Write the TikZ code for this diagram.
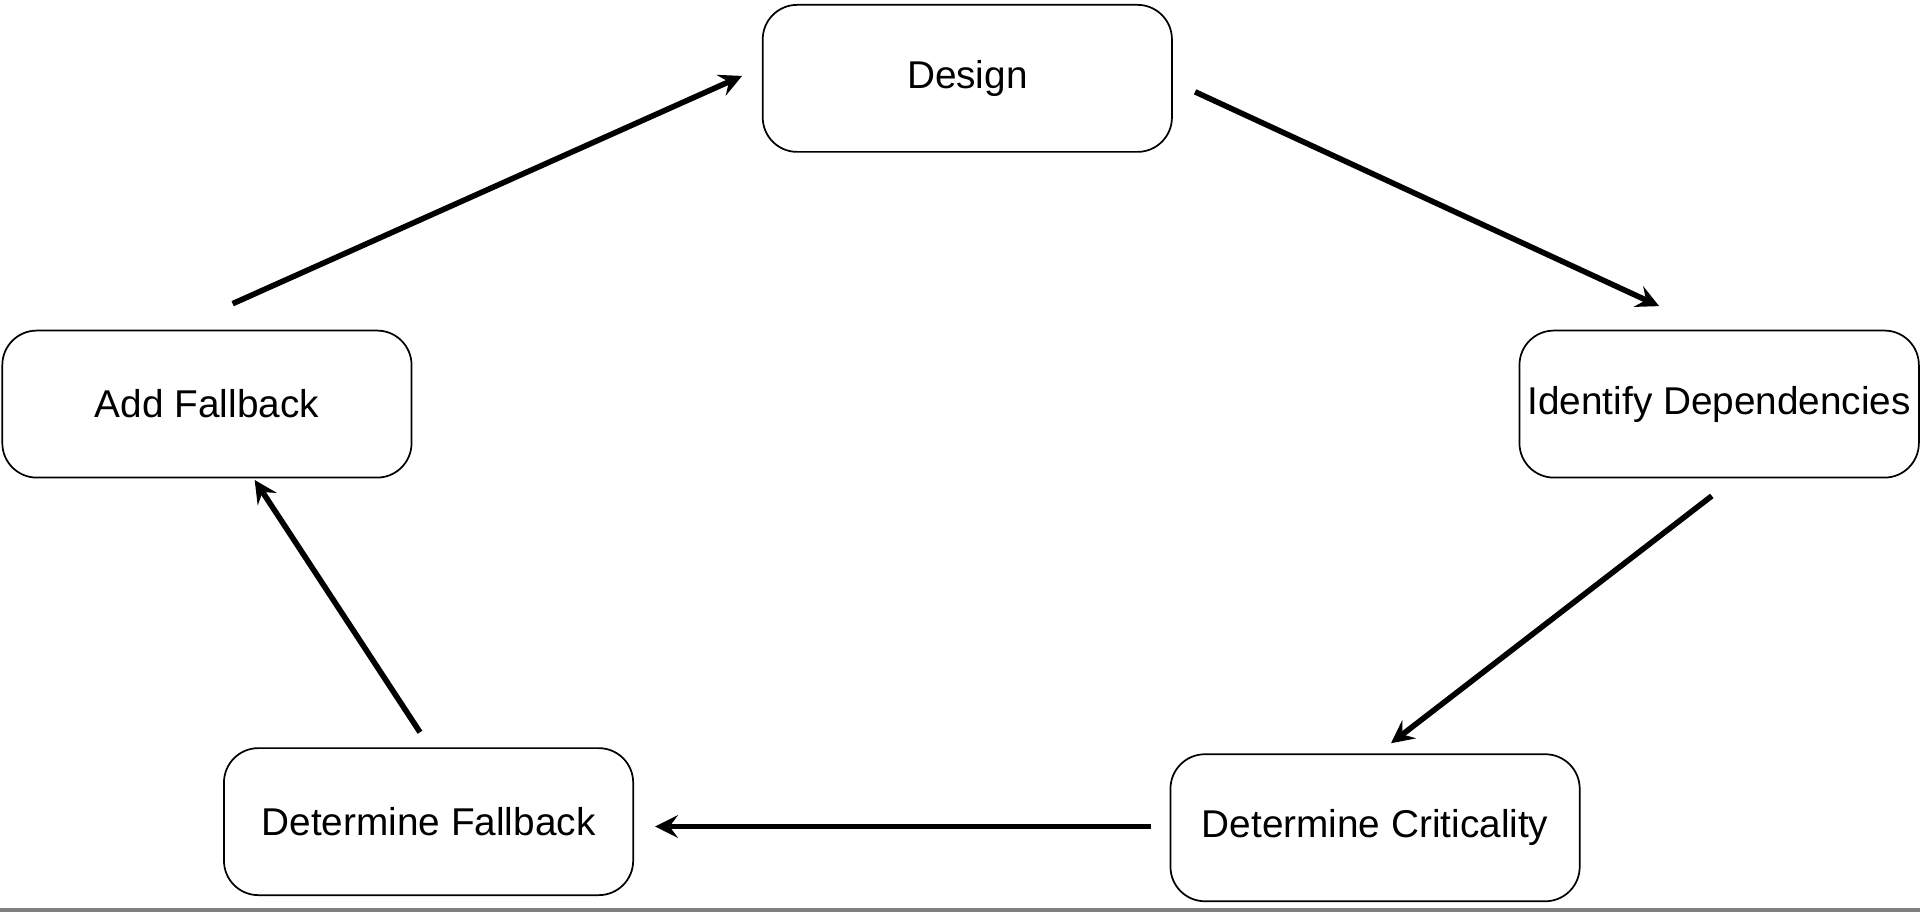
\documentclass[tikz,border=0pt]{standalone}
\usepackage{fontspec}
\setmainfont{Liberation Sans}
\tikzset{
  stage/.style={draw, rounded corners=8pt, inner sep=0pt, minimum width=3.34cm, minimum height=1.2cm, font=\small},
  flow/.style={->, >=stealth, line width=1.3pt}
}
\begin{document}
\begin{tikzpicture}[x=0.01cm, y=-0.01cm]
        \useasboundingbox (0,0) rectangle (1568,745);

        \node[stage] (design) at (790,64) {Design};
        \node[stage, minimum width=3.26cm] (ident) at (1404,330) {Identify Dependencies};
        \node[stage] (crit) at (1123,676) {Determine Criticality};
        \node[stage] (detfb) at (350,671) {Determine Fallback};
        \node[stage] (addfb) at (169,330) {Add Fallback};

        % free ends of the arrows
        \coordinate (a1) at (190,248);  \coordinate (b1) at (606,62);
        \coordinate (a2) at (976,75);   \coordinate (b2) at (1355,250);
        \coordinate (a3) at (1398,405); \coordinate (b3) at (1136,607);
        \coordinate (a4) at (940,675);  \coordinate (b4) at (535,675);
        \coordinate (a5) at (343,598);  \coordinate (b5) at (208,392);

        \draw[flow] (a1) -- (b1);
        \draw[flow] (a2) -- (b2);
        \draw[flow] (a3) -- (b3);
        \draw[flow] (a4) -- (b4);
        \draw[flow] (a5) -- (b5);

        \draw[gray, line width=1pt] (0,743) -- (1568,743);
\end{tikzpicture}
\end{document}
